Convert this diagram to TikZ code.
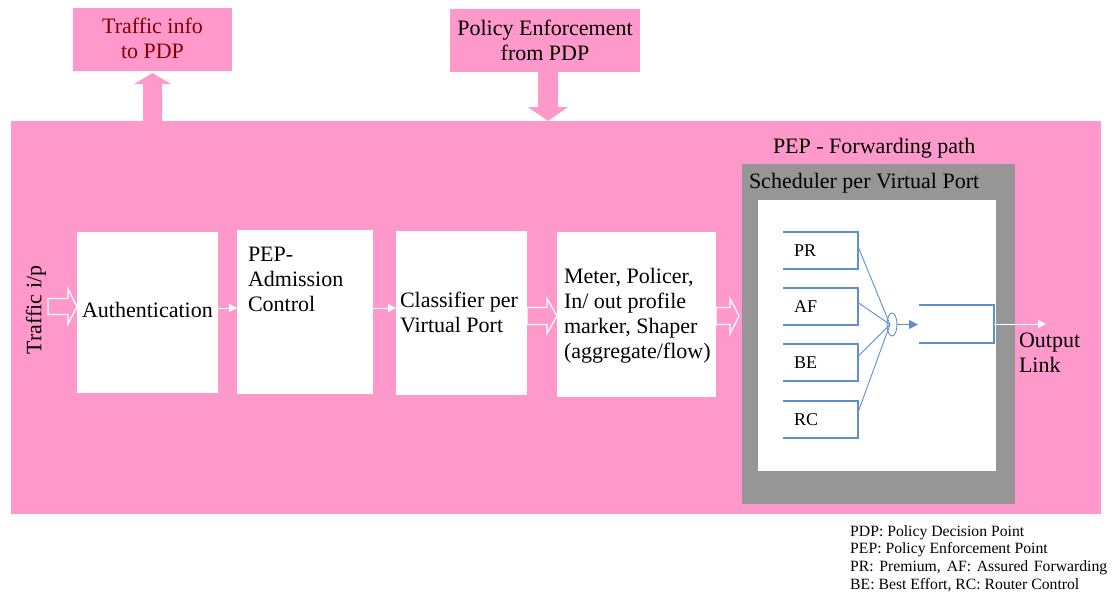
\documentclass[tikz,border=0pt]{standalone}
\usepackage{fontspec}
\setmainfont{Liberation Serif}
\usetikzlibrary{arrows.meta,shapes.geometric,calc}

\definecolor{pepPink}{RGB}{255,153,204}
\definecolor{schedGrey}{RGB}{150,150,150}
\definecolor{queueBlue}{RGB}{95,143,206}
\definecolor{pdpRed}{RGB}{128,0,0}

\newcommand\mainsize{\fontsize{22}{25}\selectfont}
\newcommand\queuesize{\fontsize{18}{21}\selectfont}
\newcommand\notesize{\fontsize{15.7}{17.8}\selectfont}

\tikzset{
  area/.style={rectangle, inner sep=0pt, outer sep=0pt, anchor=north west},
  stage/.style={area, fill=white},
  txt/.style={inner sep=0pt, outer sep=0pt, font=\mainsize, align=left, anchor=north west},
  queue/.style={area, minimum width=75pt, minimum height=37pt},
  qline/.style={draw=queueBlue, line width=1.3pt},
  fanline/.style={draw=queueBlue, line width=0.9pt},
  thinflow/.style={draw=white, line width=1pt, -{Triangle[length=8pt,width=8pt]}},
  hollowflow/.style={draw=white, line width=1.3pt, fill=pepPink, line join=miter},
}

\begin{document}
\begin{tikzpicture}[x=1pt,y=-1pt]
\useasboundingbox (0,0) rectangle (1119,595);

% PEP body and the two PDP boxes
\node[area, fill=pepPink, minimum width=1090pt, minimum height=393pt] (body) at (11,121) {};
\node[area, fill=pepPink, minimum width=159pt, minimum height=63pt] (info) at (73,8) {};
\node[area, fill=pepPink, minimum width=190pt, minimum height=63pt] (enf) at (450,9) {};
\node[txt, align=center, anchor=north, text=pdpRed] (infotxt) at (152.5,18) {Traffic info\\to PDP};
\node[txt, align=center, anchor=north] (enftxt) at (545,20) {Policy Enforcement\\from PDP};

% block arrows between PEP and PDP
\begin{scope}[shift={(info.south |- body.north)}, rotate=90]
  \fill[pepPink] (0,-9.5) -- (37,-9.5) -- (37,-18.5) -- (48,0) -- (37,18.5) -- (37,9.5) -- (0,9.5) -- cycle;
\end{scope}
\begin{scope}[shift={([xshift=3pt]enf.south)}, rotate=-90]
  \fill[pepPink] (0,-10) -- (35,-10) -- (35,-20) -- (49,0) -- (35,20) -- (35,10) -- (0,10) -- cycle;
\end{scope}

% processing stages
\node[stage, minimum width=141pt, minimum height=161pt] (auth) at (77,232) {};
\node[stage, minimum width=136pt, minimum height=164pt] (adm) at (237,230) {};
\node[stage, minimum width=131pt, minimum height=164pt] (cls) at (396,231) {};
\node[stage, minimum width=159pt, minimum height=165pt] (mtr) at (557,232) {};

\node[txt] (authtxt) at (82,302) {Authentication};
\node[txt] (admtxt) at (248,247) {PEP-\\Admission\\Control};
\node[txt] (clstxt) at (400,292) {Classifier per\\Virtual Port};
\node[txt] (mtrtxt) at (564,268) {Meter, Policer,\\In/ out profile\\marker, Shaper\\(aggregate/flow)};

\node[inner sep=0pt, font=\mainsize, rotate=90] (inlbl) at (36,310) {Traffic i/p};

% flow between stages
\begin{scope}[shift={($(auth.west)+(-29,-6)$)}]
  \draw[hollowflow] (0,-8) -- (20,-8) -- (20,-17.5) -- (29,0) -- (20,17.5) -- (20,8) -- (0,8) -- cycle;
\end{scope}
\draw[thinflow] ([yshift=4.5pt]auth.east) -- ([yshift=4.5pt]auth.east -| adm.west);
\draw[thinflow] ([yshift=4pt]adm.east) -- ([yshift=4pt]adm.east -| cls.west);
\begin{scope}[shift={($(cls.east)+(0,3)$)}]
  \draw[hollowflow] (0,-8.5) -- (20,-8.5) -- (20,-17.5) -- (30,0) -- (20,17.5) -- (20,8.5) -- (0,8.5) -- cycle;
\end{scope}
\begin{scope}[shift={($(mtr.east)+(0,1.5)$)}]
  \draw[hollowflow] (0,-8.5) -- (14,-8.5) -- (14,-17.5) -- (23,0) -- (14,17.5) -- (14,8.5) -- (0,8.5) -- cycle;
\end{scope}

% forwarding path and scheduler
\node[txt] (fwdtxt) at (773,138) {PEP - Forwarding path};
\node[area, fill=schedGrey, minimum width=273pt, minimum height=340pt] (sched) at (742,164) {};
\node[txt] (schedtxt) at (749,173) {Scheduler per Virtual Port};
\node[area, fill=white, minimum width=238pt, minimum height=271pt] (port) at (758,200) {};

% class queues
\foreach \q/\y in {PR/232, AF/288, BE/344, RC/401}{
  \node[queue] (q\q) at (783,\y) {};
  \draw[qline] (q\q.north west) -- (q\q.north east) -- (q\q.south east) -- (q\q.south west);
  \node[inner sep=0pt, font=\queuesize, anchor=west] (t\q) at ([xshift=11pt]q\q.west) {\q};
}

\node[ellipse, draw=queueBlue, line width=0.9pt, minimum width=10pt, minimum height=23pt, inner sep=0pt] (mux) at (892,324.5) {};
\draw[fanline] ([yshift=4pt]qPR.east) -- ([xshift=-2pt]mux.center);
\draw[fanline] ([yshift=4pt]qAF.east) -- ([xshift=-2pt]mux.center);
\draw[fanline] ([yshift=6pt]qBE.east) -- ([xshift=-2pt]mux.center);
\draw[fanline] ([yshift=7pt]qRC.east) -- ([xshift=-2pt]mux.center);

\node[queue, minimum height=38pt] (qOut) at (919,305) {};
\draw[qline] (qOut.north west) -- (qOut.north east) -- (qOut.south east) -- (qOut.south west);
\draw[fanline, -{Triangle[length=9pt,width=9pt]}] (mux.east) -- ([xshift=-1pt]mux.east -| qOut.west);

\coordinate (linkEnd) at (1046,324);
\draw[thinflow] (qOut.east) -- (linkEnd);
\node[txt] (outtxt) at (1019,333) {Output\\Link};

% abbreviations
\node[inner sep=0pt, anchor=north west, font=\notesize, align=left] (notes) at (850,525)
  {PDP: Policy Decision Point\\PEP: Policy Enforcement Point\\\makebox[257pt][s]{PR: Premium, AF: Assured Forwarding}\\BE: Best Effort, RC: Router Control};
\end{tikzpicture}
\end{document}
